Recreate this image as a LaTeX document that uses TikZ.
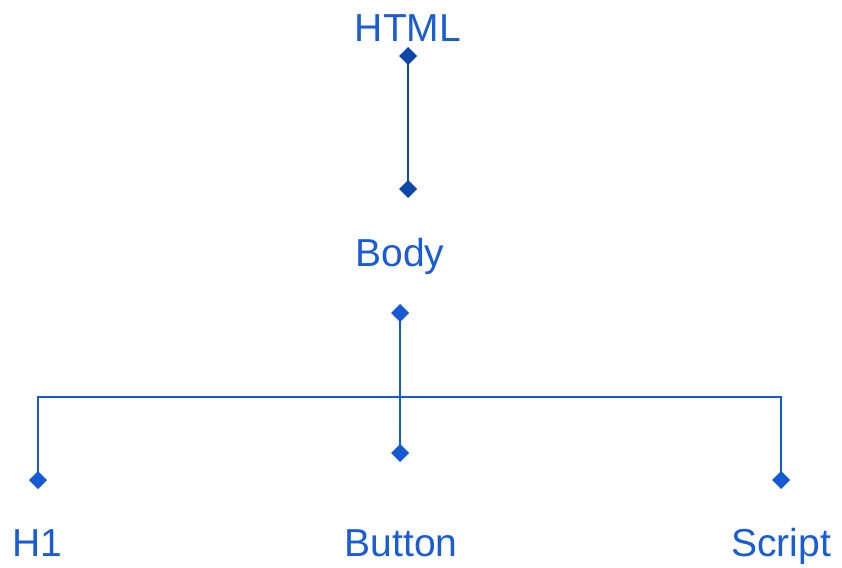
\documentclass[tikz,border=0pt]{standalone}
\usepackage{fontspec}
\setmainfont{Liberation Sans}
\usetikzlibrary{shapes.geometric}
\begin{document}
\begin{tikzpicture}[x=1pt,y=-1pt,
  lbl/.style={text=textblue,font=\fontsize{39}{44}\selectfont,inner sep=0pt,anchor=base},
  dia/.style={fill=#1,draw=none,shape=diamond,minimum width=18pt,minimum height=18pt,inner sep=0pt,outer sep=0pt},
  dia/.default=lineblue,
  conn/.style={draw=lineblue,line width=2pt}]
\definecolor{textblue}{HTML}{1A5CD6}
\definecolor{lineblue}{HTML}{1559D4}
\definecolor{darkblue}{HTML}{0F47A8}
\useasboundingbox (0,0) rectangle (842,567);
% text nodes
\node[lbl] (html) at (408,42) {HTML};
\node[lbl] (body) at (400,266) {Body};
\node[lbl] (h1) at (37,556) {H1};
\node[lbl] (button) at (401,556) {Button};
\node[lbl] (script) at (781,556) {Script};
% connector points
\node[dia=darkblue] (d1) at (408,56) {};
\node[dia=darkblue] (d2) at (408,189) {};
\node[dia] (d3) at (400,313) {};
\node[dia] (d4) at (400,453) {};
\node[dia] (d5) at (38,480) {};
\node[dia] (d6) at (781,480) {};
\coordinate (j) at (400,397);
\coordinate (jl) at (38,397);
\coordinate (jr) at (781,397);
% connectors
\draw[draw=darkblue,line width=2pt] (d1.center) -- (d2.center);
\draw[conn] (d3.center) -- (j);
\draw[conn,line width=1.5pt] (j) -- (d4.center);
\draw[conn] (d5.center) -- (jl) -- (jr) -- (d6.center);
\end{tikzpicture}
\end{document}
